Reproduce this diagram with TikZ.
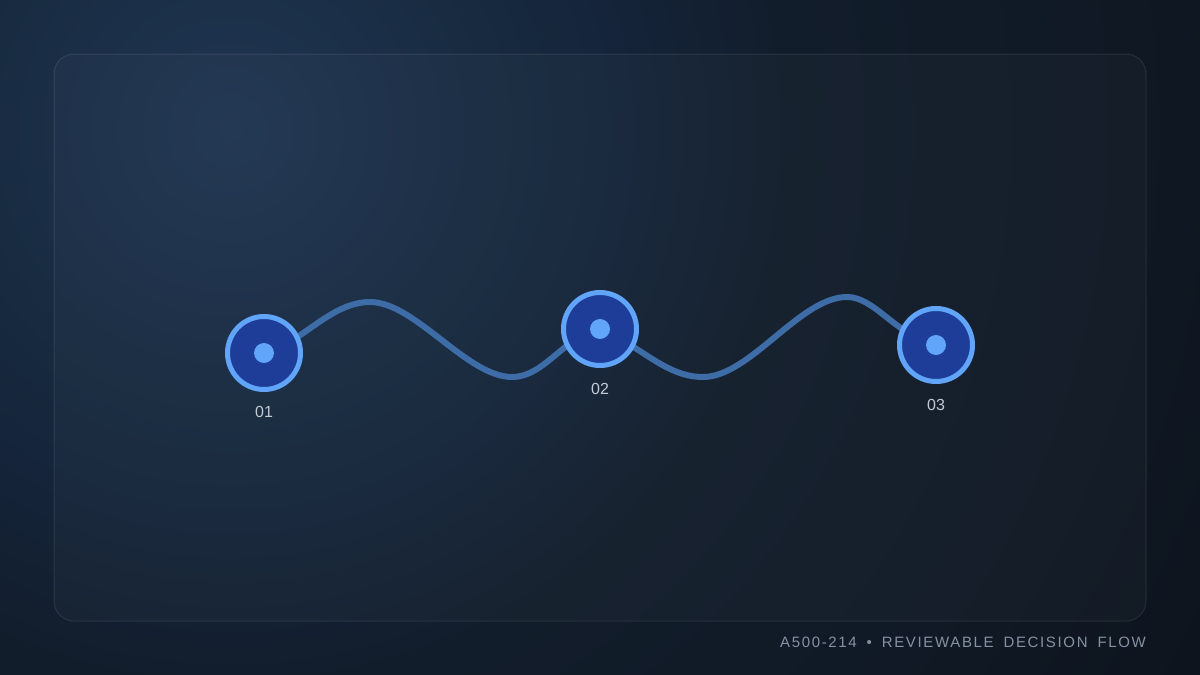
\documentclass[tikz,border=0pt]{standalone}
\usepackage{fontspec}
\setmainfont{Liberation Sans}
\newfontfamily\capfont[LetterSpace=11, WordSpace=1.7]{Liberation Sans}
\definecolor{gA}{HTML}{1F3550}
\definecolor{gB}{HTML}{1B2F48}
\definecolor{gC}{HTML}{172A3F}
\definecolor{gD}{HTML}{15243A}
\definecolor{gE}{HTML}{121D2B}
\definecolor{gF}{HTML}{101925}
\definecolor{gG}{HTML}{0D131C}
\definecolor{ringc}{HTML}{60A5FA}
\definecolor{fillc}{HTML}{1D3D98}
\definecolor{wavec}{HTML}{3D6CA6}
\definecolor{lblc}{HTML}{C3CAD4}
\definecolor{capc}{HTML}{8592A3}
\pgfdeclareradialshading{glow}{\pgfpoint{0bp}{0bp}}{%
  color(0bp)=(gA); color(150bp)=(gB); color(270bp)=(gC); color(390bp)=(gD); color(560bp)=(gE); color(850bp)=(gF); color(1150bp)=(gG); color(1250bp)=(gG)}
\pgfdeclarelayer{back}
\pgfdeclarelayer{mid}
\pgfsetlayers{back,mid,main}
\tikzset{
  stepnode/.style={circle, inner sep=0pt, minimum size=73pt, fill=fillc, draw=ringc, line width=5pt},
  dotnode/.style={circle, inner sep=0pt, minimum size=20pt, fill=ringc},
  lbl/.style={text=lblc, font=\fontsize{16}{16}\selectfont, inner sep=0pt},
  captext/.style={text=capc, font=\capfont\fontsize{15}{15}\selectfont, inner sep=0pt},
  wave/.style={draw=wavec, line width=6pt, line cap=round},
  panel/.style={rounded corners=20pt, fill=white, fill opacity=0.025, draw=white, draw opacity=0.09, line width=1pt}
}
\begin{document}
\begin{tikzpicture}[x=1pt, y=-1pt]
\useasboundingbox (0,0) rectangle (1200,675);
\begin{pgfonlayer}{back}
  \fill[gG] (0,0) rectangle (1200,675);
  \begin{scope}
    \clip (0,0) rectangle (1200,675);
    \node[inner sep=0pt, outer sep=0pt] (glowbg) at (230,130) {\pgfuseshading{glow}};
  \end{scope}
  \path[panel] (54,54) rectangle (1146,621);
\end{pgfonlayer}

\node[stepnode] (n1) at (264,353) {};
\node[stepnode] (n2) at (600,329) {};
\node[stepnode] (n3) at (936,345) {};
\node[dotnode] (d1) at (n1) {};
\node[dotnode] (d2) at (n2) {};
\node[dotnode] (d3) at (n3) {};

\node[lbl] (l1) at (264,412) {01};
\node[lbl] (l2) at (600,389) {02};
\node[lbl] (l3) at (936,405) {03};

\coordinate (p1) at (370,302);
\coordinate (t1) at (512,377);
\coordinate (t2) at (703,377);
\coordinate (p2) at (847,297);

\begin{pgfonlayer}{mid}
  \draw[wave] (n1.center) .. controls (300,345) and (330,302) .. (p1)
    .. controls (415,302) and (467,377) .. (t1)
    .. controls (545,377) and (565,335) .. (n2.center);
  \draw[wave] (n2.center) .. controls (640,345) and (665,377) .. (t2)
    .. controls (750,377) and (800,297) .. (p2)
    .. controls (875,297) and (895,335) .. (n3.center);
\end{pgfonlayer}

\node[captext, anchor=east] (caption) at (1146,642) {A500-214 • REVIEWABLE DECISION FLOW};
\end{tikzpicture}
\end{document}
